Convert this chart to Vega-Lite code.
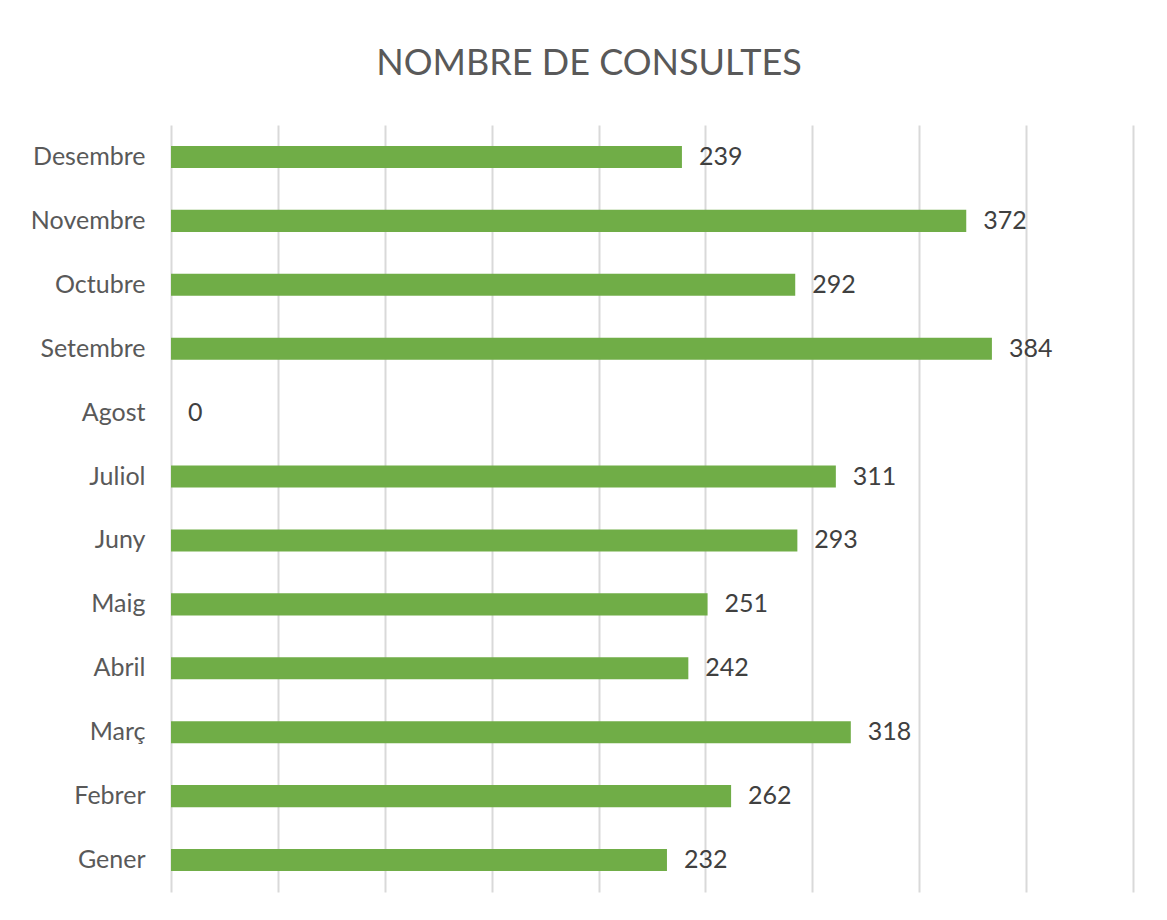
{
  "$schema": "https://vega.github.io/schema/vega-lite/v6.json",
  "autosize": "none",
  "width": 962,
  "height": 767,
  "padding": {"left": 171, "top": 125, "right": 34, "bottom": 28},
  "background": "white",
  "title": {
    "text": "NOMBRE DE CONSULTES",
    "font": "Lato",
    "fontSize": 36,
    "fontWeight": "normal",
    "color": "#595959",
    "anchor": "middle",
    "dx": -63,
    "offset": 42
  },
  "data": {
    "values": [
      {"mes": "Gener", "consultes": 232},
      {"mes": "Febrer", "consultes": 262},
      {"mes": "Març", "consultes": 318},
      {"mes": "Abril", "consultes": 242},
      {"mes": "Maig", "consultes": 251},
      {"mes": "Juny", "consultes": 293},
      {"mes": "Juliol", "consultes": 311},
      {"mes": "Agost", "consultes": 0},
      {"mes": "Setembre", "consultes": 384},
      {"mes": "Octubre", "consultes": 292},
      {"mes": "Novembre", "consultes": 372},
      {"mes": "Desembre", "consultes": 239}
    ]
  },
  "encoding": {
    "y": {
      "field": "mes",
      "type": "nominal",
      "sort": ["Desembre", "Novembre", "Octubre", "Setembre", "Agost", "Juliol", "Juny", "Maig", "Abril", "Març", "Febrer", "Gener"],
      "scale": {"paddingInner": 0.655, "paddingOuter": 0.3275},
      "axis": {
        "title": null,
        "ticks": false,
        "domain": false,
        "grid": false,
        "labelFont": "Lato",
        "labelFontSize": 25,
        "labelColor": "#595959",
        "labelPadding": 26
      }
    },
    "x": {
      "field": "consultes",
      "type": "quantitative",
      "scale": {"domain": [0, 450], "nice": false},
      "axis": {
        "title": null,
        "labels": false,
        "ticks": false,
        "domain": false,
        "grid": true,
        "gridColor": "#d9d9d9",
        "gridWidth": 2,
        "values": [0, 50, 100, 150, 200, 250, 300, 350, 400, 450]
      }
    }
  },
  "layer": [
    {"mark": {"type": "bar", "color": "#70AD47"}},
    {
      "mark": {"type": "text", "align": "left", "baseline": "middle", "dx": 17, "font": "Lato", "fontSize": 25, "color": "#404040"},
      "encoding": {"text": {"field": "consultes", "type": "quantitative"}}
    }
  ],
  "config": {"view": {"stroke": null}}
}
